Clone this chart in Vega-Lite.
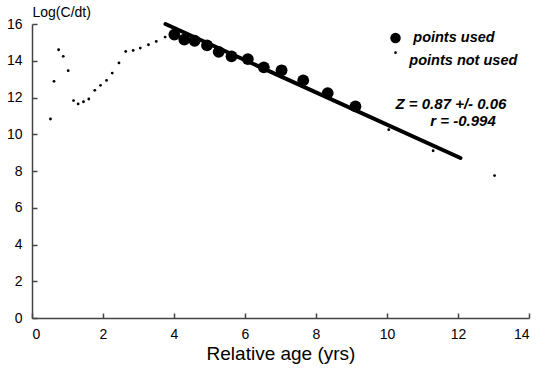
{
  "$schema": "https://vega.github.io/schema/vega-lite/v6.json",
  "width": 497,
  "height": 294,
  "autosize": "none",
  "padding": {"left": 32, "top": 24, "right": 21, "bottom": 52},
  "background": "white",
  "config": {
    "view": {"stroke": null},
    "font": "Liberation Sans",
    "axis": {
      "grid": false,
      "domainColor": "#444",
      "domainWidth": 1.5,
      "tickColor": "#444",
      "tickWidth": 1.5,
      "tickSize": -5,
      "labelFont": "Liberation Sans",
      "labelFontSize": 14,
      "labelColor": "#000",
      "titleFont": "Liberation Sans",
      "titleFontWeight": "normal",
      "titleColor": "#000"
    }
  },
  "datasets": {
    "notused": [
      {"age": 0.52, "logc": 10.83},
      {"age": 0.62, "logc": 12.88},
      {"age": 0.75, "logc": 14.6},
      {"age": 0.88, "logc": 14.24},
      {"age": 1.02, "logc": 13.46},
      {"age": 1.17, "logc": 11.83},
      {"age": 1.3, "logc": 11.65},
      {"age": 1.45, "logc": 11.77},
      {"age": 1.6, "logc": 11.92},
      {"age": 1.77, "logc": 12.39},
      {"age": 1.93, "logc": 12.66},
      {"age": 2.1, "logc": 12.93},
      {"age": 2.26, "logc": 13.33},
      {"age": 2.45, "logc": 13.88},
      {"age": 2.64, "logc": 14.51},
      {"age": 2.85, "logc": 14.56},
      {"age": 3.05, "logc": 14.69},
      {"age": 3.28, "logc": 14.87},
      {"age": 3.5, "logc": 15.05},
      {"age": 3.75, "logc": 15.29},
      {"age": 10.05, "logc": 10.25},
      {"age": 11.3, "logc": 9.1},
      {"age": 13.03, "logc": 7.75}
    ],
    "used": [
      {"age": 4.01, "logc": 15.42},
      {"age": 4.29, "logc": 15.15},
      {"age": 4.58, "logc": 15.09},
      {"age": 4.93, "logc": 14.84},
      {"age": 5.26, "logc": 14.48},
      {"age": 5.62, "logc": 14.24},
      {"age": 6.08, "logc": 14.09},
      {"age": 6.53, "logc": 13.64},
      {"age": 7.03, "logc": 13.48},
      {"age": 7.64, "logc": 12.93},
      {"age": 8.33, "logc": 12.24},
      {"age": 9.11, "logc": 11.52}
    ],
    "fit": [
      {"age": 3.76, "logc": 16.0},
      {"age": 12.07, "logc": 8.71}
    ],
    "legendpts": [
      {"age": 10.24, "logc": 15.24, "size": 110},
      {"age": 10.24, "logc": 14.44, "size": 7}
    ],
    "labels": [
      {"age": 10.74, "logc": 15.24, "label": "points used", "fs": 14.5},
      {"age": 10.63, "logc": 13.97, "label": "points not used", "fs": 14.5},
      {"age": 10.24, "logc": 11.64, "label": "Z = 0.87 +/- 0.06", "fs": 15},
      {"age": 11.22, "logc": 10.72, "label": "r = -0.994", "fs": 15}
    ]
  },
  "layer": [
    {
      "data": {"name": "fit"},
      "mark": {"type": "line", "color": "black", "strokeWidth": 4, "strokeCap": "round"},
      "encoding": {
        "x": {
          "field": "age", "type": "quantitative",
          "scale": {"domain": [0, 14], "nice": false, "zero": false},
          "axis": {"tickCount": 7, "labelOverlap": false, "title": "Relative age (yrs)", "titleFontSize": 19, "titlePadding": 3, "labelPadding": 14}
        },
        "y": {
          "field": "logc", "type": "quantitative",
          "scale": {"domain": [0, 16], "nice": false},
          "axis": {"tickCount": 8, "labelOverlap": false, "labelFlush": false, "labelBound": false, "title": "Log(C/dt)", "titleAngle": 0, "titleAlign": "left", "titleBaseline": "middle", "titleX": 0, "titleY": -12, "titleFontSize": 14, "labelPadding": 15}
        }
      }
    },
    {
      "data": {"name": "notused"},
      "mark": {"type": "circle", "color": "black", "size": 8, "opacity": 1},
      "encoding": {
        "x": {"field": "age", "type": "quantitative"},
        "y": {"field": "logc", "type": "quantitative"}
      }
    },
    {
      "data": {"name": "used"},
      "mark": {"type": "circle", "color": "black", "size": 140, "opacity": 1},
      "encoding": {
        "x": {"field": "age", "type": "quantitative"},
        "y": {"field": "logc", "type": "quantitative"}
      }
    },
    {
      "data": {"name": "legendpts"},
      "mark": {"type": "circle", "color": "black", "opacity": 1},
      "encoding": {
        "x": {"field": "age", "type": "quantitative"},
        "y": {"field": "logc", "type": "quantitative"},
        "size": {"field": "size", "type": "quantitative", "scale": null, "legend": null}
      }
    },
    {
      "data": {"name": "labels"},
      "mark": {"type": "text", "align": "left", "baseline": "middle", "fontStyle": "italic", "fontWeight": "bold", "color": "black", "font": "Liberation Sans"},
      "encoding": {
        "x": {"field": "age", "type": "quantitative"},
        "y": {"field": "logc", "type": "quantitative"},
        "text": {"field": "label"},
        "size": {"field": "fs", "type": "quantitative", "scale": null, "legend": null}
      }
    }
  ]
}
